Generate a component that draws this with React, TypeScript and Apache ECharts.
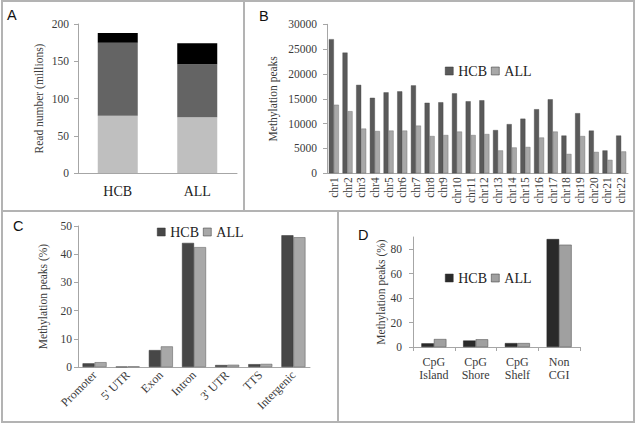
import React, { useEffect, useRef } from "react";
import * as echarts from "echarts";

// Panel A: read numbers (millions), stacked segments
const readCategories = ["HCB", "ALL"];
const readLight = [77, 75];
const readDark = [98, 71];
const readBlack = [13, 28];
const readTicks = { min: 0, max: 200, interval: 50 };

// Panel B: methylation peaks per chromosome
const chromosomes = [
  "chr1", "chr2", "chr3", "chr4", "chr5", "chr6", "chr7", "chr8", "chr9", "chr10", "chr11",
  "chr12", "chr13", "chr14", "chr15", "chr16", "chr17", "chr18", "chr19", "chr20", "chr21", "chr22",
];
const chrHCB = [27000, 24300, 17800, 15200, 16300, 16500, 17700, 14200, 14300, 16100, 14500,
  14700, 8700, 9900, 11000, 12900, 14900, 7600, 12100, 8600, 4600, 7600];
const chrALL = [13800, 12500, 9000, 8500, 8600, 8600, 9600, 7500, 7700, 8400, 7700,
  7900, 4600, 5200, 5300, 7200, 8400, 3900, 7500, 4300, 2700, 4400];

// Panel C: genomic features (%)
const features = ["Promoter", "5' UTR", "Exon", "Intron", "3' UTR", "TTS", "Intergenic"];
const featHCB = [1.3, 0.1, 6.0, 44.0, 0.7, 1.0, 46.7];
const featALL = [1.7, 0.2, 7.3, 42.5, 0.8, 1.1, 46.0];

// Panel D: CpG context (%)
const cpgCategories = ["CpG\nIsland", "CpG\nShore", "CpG\nShelf", "Non\nCGI"];
const cpgHCB = [3.0, 5.3, 3.2, 88.3];
const cpgALL = [6.5, 6.3, 3.2, 83.7];

const panelLetters = ["A", "B", "C", "D"];
const seriesNames = ["HCB", "ALL"];

const SERIF = "'Liberation Serif', 'Times New Roman', serif";
const AXIS_LINE = "#a6a6a6";
const LABEL = "#3a3a3a";

function yAxisBase(grid: number, min: number, max: number, interval: number, name: string, nameGap: number, margin: number) {
  return {
    type: "value",
    gridIndex: grid,
    min,
    max,
    interval,
    name,
    nameLocation: "middle",
    nameGap,
    nameTextStyle: { fontFamily: SERIF, fontSize: 11.5, color: LABEL },
    axisLine: { show: true, lineStyle: { color: AXIS_LINE, width: 1 } },
    axisTick: { show: true, length: 4, lineStyle: { color: AXIS_LINE } },
    splitLine: { show: false },
    axisLabel: {
      fontFamily: SERIF,
      fontSize: 11.5,
      color: LABEL,
      margin,
      formatter: (v: number) => String(v),
    },
  };
}

export default function App() {
  const ref = useRef<HTMLDivElement>(null);

  useEffect(() => {
    if (!ref.current) return;
    const chart = echarts.init(ref.current, undefined, { renderer: "svg" });

    const legendText = { fontFamily: SERIF, fontSize: 14, color: "#222", fontWeight: "normal" };
    const legendItem = (name: string, color: string) => ({
      name,
      icon: "rect",
      itemStyle: { color, borderColor: "#333", borderWidth: 0.5 },
      textStyle: legendText,
    });
    const legendBase = (left: number, top: number, dark: string, light: string) => ({
      left,
      top,
      orient: "horizontal",
      itemWidth: 8,
      itemHeight: 8,
      itemGap: 4,
      selectedMode: false,
      padding: 0,
      textStyle: legendText,
      data: [legendItem(seriesNames[0], dark), legendItem(seriesNames[1], light)],
    });

    const letter = (t: string, x: number, y: number) => ({
      type: "text",
      x,
      y,
      style: {
        text: t,
        fontFamily: "'Liberation Sans', sans-serif",
        fontSize: 14.5,
        fill: "#111",
        verticalAlign: "middle",
      },
    });

    const border = "#b3b3b3";

    const option: any = {
      animation: false,
      backgroundColor: "#ffffff",
      textStyle: { fontFamily: SERIF },
      grid: [
        { left: 78, top: 24, width: 159, height: 149 },
        { left: 327, top: 24.3, width: 301, height: 149 },
        { left: 78, top: 226, width: 232, height: 141 },
        { left: 413, top: 237, width: 167, height: 110 },
      ],
      xAxis: [
        {
          type: "category",
          gridIndex: 0,
          data: readCategories,
          axisLine: { lineStyle: { color: AXIS_LINE } },
          axisTick: { show: false },
          axisLabel: { fontFamily: SERIF, fontSize: 14, color: "#222", margin: 11 },
        },
        {
          type: "category",
          gridIndex: 1,
          data: chromosomes,
          axisLine: { lineStyle: { color: AXIS_LINE } },
          axisTick: { show: false },
          axisLabel: { fontFamily: SERIF, fontSize: 11.5, color: LABEL, rotate: 90, margin: 4, interval: 0 },
        },
        {
          type: "category",
          gridIndex: 2,
          data: features,
          axisLine: { lineStyle: { color: AXIS_LINE } },
          axisTick: { show: false },
          axisLabel: { fontFamily: SERIF, fontSize: 12, color: LABEL, rotate: 45, margin: 6, interval: 0 },
        },
        {
          type: "category",
          gridIndex: 3,
          data: cpgCategories,
          axisLine: { lineStyle: { color: AXIS_LINE } },
          axisTick: { show: true, length: 4, lineStyle: { color: AXIS_LINE } },
          axisLabel: { fontFamily: SERIF, fontSize: 12, color: LABEL, margin: 8, lineHeight: 13, interval: 0 },
        },
      ],
      yAxis: [
        yAxisBase(0, readTicks.min, readTicks.max, readTicks.interval, "Read number (millions)", 33, 9),
        yAxisBase(1, 0, 30000, 5000, "Methylation peaks", 48, 10),
        yAxisBase(2, 0, 50, 10, "Methylation peaks (%)", 29, 6),
        {
          ...yAxisBase(3, 0, 90, 20, "Methylation peaks (%)", 26, 11),
          axisLabel: { fontFamily: SERIF, fontSize: 11.5, color: LABEL, margin: 11, showMaxLabel: false },
        },
      ],
      legend: [
        legendBase(445, 64, "#5a5a5a", "#a8a8a8"),
        legendBase(157, 225, "#474747", "#a8a8a8"),
        legendBase(445, 271, "#2a2a2a", "#a0a0a0"),
      ],
      series: [
        {
          name: "Read-light",
          type: "bar",
          xAxisIndex: 0,
          yAxisIndex: 0,
          stack: "reads",
          barWidth: 40,
          data: readLight,
          itemStyle: { color: "#bfbfbf" },
        },
        {
          name: "Read-dark",
          type: "bar",
          xAxisIndex: 0,
          yAxisIndex: 0,
          stack: "reads",
          barWidth: 40,
          data: readDark,
          itemStyle: { color: "#646464" },
        },
        {
          name: "Read-black",
          type: "bar",
          xAxisIndex: 0,
          yAxisIndex: 0,
          stack: "reads",
          barWidth: 40,
          data: readBlack,
          itemStyle: { color: "#000000" },
        },
        {
          name: seriesNames[0],
          type: "bar",
          xAxisIndex: 1,
          yAxisIndex: 1,
          barWidth: 5,
          barGap: "0%",
          data: chrHCB,
          itemStyle: { color: "#5a5a5a", borderColor: "#444", borderWidth: 0.4 },
        },
        {
          name: seriesNames[1],
          type: "bar",
          xAxisIndex: 1,
          yAxisIndex: 1,
          barWidth: 5,
          barGap: "0%",
          data: chrALL,
          itemStyle: { color: "#a8a8a8", borderColor: "#666", borderWidth: 0.4 },
        },
        {
          name: seriesNames[0],
          type: "bar",
          xAxisIndex: 2,
          yAxisIndex: 2,
          barWidth: 12,
          barGap: "0%",
          data: featHCB,
          itemStyle: { color: "#474747", borderColor: "#333", borderWidth: 0.5 },
        },
        {
          name: seriesNames[1],
          type: "bar",
          xAxisIndex: 2,
          yAxisIndex: 2,
          barWidth: 12,
          barGap: "0%",
          data: featALL,
          itemStyle: { color: "#a8a8a8", borderColor: "#555", borderWidth: 0.5 },
        },
        {
          name: seriesNames[0],
          type: "bar",
          xAxisIndex: 3,
          yAxisIndex: 3,
          barWidth: 12.5,
          barGap: "0%",
          data: cpgHCB,
          itemStyle: { color: "#2a2a2a", borderColor: "#222", borderWidth: 0.5 },
        },
        {
          name: seriesNames[1],
          type: "bar",
          xAxisIndex: 3,
          yAxisIndex: 3,
          barWidth: 12.5,
          barGap: "0%",
          data: cpgALL,
          itemStyle: { color: "#a0a0a0", borderColor: "#444", borderWidth: 0.5 },
        },
      ],
      graphic: [
        {
          type: "rect",
          shape: { x: 2, y: 1, width: 632, height: 421 },
          style: { fill: "none", stroke: border, lineWidth: 2 },
          silent: true,
        },
        { type: "line", shape: { x1: 244, y1: 1, x2: 244, y2: 211 }, style: { stroke: border, lineWidth: 2 } },
        { type: "line", shape: { x1: 2, y1: 211, x2: 634, y2: 211 }, style: { stroke: border, lineWidth: 2 } },
        { type: "line", shape: { x1: 338, y1: 211, x2: 338, y2: 422 }, style: { stroke: border, lineWidth: 2 } },
        letter(panelLetters[0], 7, 15),
        letter(panelLetters[1], 259, 16),
        letter(panelLetters[2], 13, 226),
        letter(panelLetters[3], 358, 235),
      ],
    };

    chart.setOption(option);
    return () => chart.dispose();
  }, []);

  return (
    <div
      ref={ref}
      style={{ position: "fixed", left: 0, top: 0, width: 636, height: 424, background: "#fff" }}
    />
  );
}
